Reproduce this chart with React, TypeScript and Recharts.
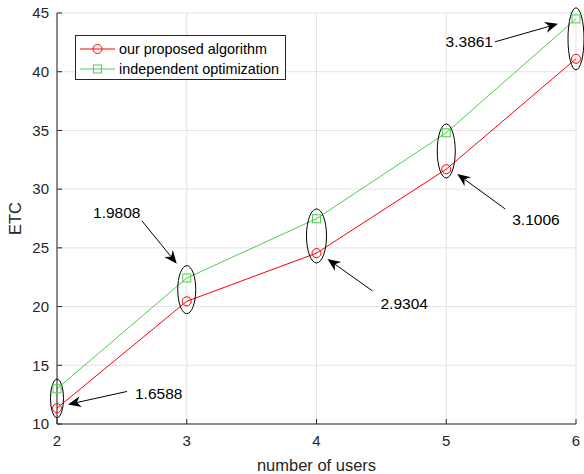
import React from "react"
import { LineChart, Line, XAxis, YAxis, CartesianGrid, ReferenceDot, Legend } from "recharts"

const users = [2, 3, 4, 5, 6]
const proposed = [11.35, 20.45, 24.55, 31.7, 41.1]
const independent = [13.0, 22.43, 27.48, 34.8, 44.5]
const gapLabels = ["1.6588", "1.9808", "2.9304", "3.1006", "3.3861"]
const xTicks = [2, 3, 4, 5, 6]
const yTicks = [10, 15, 20, 25, 30, 35, 40, 45]

const RED = "#ff0000"
const GREEN = "#4dcc4d"
const INK = "#262626"
const FONT = "'Liberation Sans', Arial, Helvetica, sans-serif"

const data = users.map((u, i) => ({ users: u, proposed: proposed[i], independent: independent[i] }))

// pixel layout of the callouts, relative to the ellipse centre
const callouts = [
  { ry: 19.5, rx: 6.5, tail: [70, -7], tip: [11, 6], text: [78, -5], anchor: "start" },
  { ry: 24, rx: 9, tail: [-45, -69], tip: [-10, -26], text: [-70, -77], anchor: "middle" },
  { ry: 27, rx: 10, tail: [56, 55], tip: [11, 23], text: [64, 68], anchor: "start" },
  { ry: 27, rx: 9, tail: [59, 58], tip: [11, 23], text: [66, 69], anchor: "start" },
  { ry: 31, rx: 8, tail: [-81, 3], tip: [-18, -15], text: [-83, 3], anchor: "end" },
]

function Callout(props: any) {
  const { cx, cy, idx } = props
  const c = callouts[idx]
  const fx = cx + c.tail[0], fy = cy + c.tail[1]
  const tx = cx + c.tip[0], ty = cy + c.tip[1]
  const dx = tx - fx, dy = ty - fy
  const len = Math.sqrt(dx * dx + dy * dy)
  const ux = dx / len, uy = dy / len
  const px = -uy, py = ux
  const L = 13, W = 5.5, N = 9
  const head = [
    [tx, ty],
    [tx - ux * L + px * W, ty - uy * L + py * W],
    [tx - ux * N, ty - uy * N],
    [tx - ux * L - px * W, ty - uy * L - py * W],
  ]
  return (
    <g>
      <ellipse cx={cx} cy={cy} rx={c.rx} ry={c.ry} fill="none" stroke="#000" strokeWidth={1} />
      <line x1={fx} y1={fy} x2={tx - ux * N} y2={ty - uy * N} stroke="#000" strokeWidth={1} />
      <polygon points={head.map((p) => p.join(",")).join(" ")} fill="#000" />
      <text
        x={cx + c.text[0]}
        y={cy + c.text[1]}
        textAnchor={c.anchor}
        dominantBaseline="central"
        fontSize={15.5}
        fontFamily={FONT}
        fill="#000"
      >
        {gapLabels[idx]}
      </text>
    </g>
  )
}

function Square(props: any) {
  const { cx, cy } = props
  return <rect x={cx - 4} y={cy - 4} width={8} height={8} fill="none" stroke={GREEN} strokeWidth={1} />
}

function LegendBox() {
  return (
    <div style={{ width: 211, height: 45, border: `1px solid ${INK}`, background: "#fff", boxSizing: "border-box" }}>
      <svg width={209} height={43} style={{ display: "block" }}>
        <line x1={4} y1={13} x2={39} y2={13} stroke={RED} />
        <circle cx={21.5} cy={13} r={4.5} fill="none" stroke={RED} />
        <text x={43} y={13} dominantBaseline="central" fontSize={14.4} fontFamily={FONT} fill="#000">
          our proposed algorithm
        </text>
        <line x1={4} y1={33} x2={39} y2={33} stroke={GREEN} />
        <rect x={17.5} y={29} width={8} height={8} fill="none" stroke={GREEN} />
        <text x={43} y={33} dominantBaseline="central" fontSize={14.4} fontFamily={FONT} fill="#000">
          independent optimization
        </text>
      </svg>
    </div>
  )
}

const tickStyle = { fontSize: 15, fill: INK, fontFamily: FONT }
const labelStyle = { fontSize: 16.5, fill: INK, fontFamily: FONT }
const emptyTick = () => <g />

export default function App() {
  return (
    <div style={{ position: "absolute", left: 0, top: 0, background: "#fff" }}>
      <LineChart width={584} height={474} data={data} margin={{ top: 13, right: 8, left: 0, bottom: 0 }}>
        <CartesianGrid stroke="#e3e3e3" />
        <XAxis
          dataKey="users"
          type="number"
          domain={[2, 6]}
          ticks={xTicks}
          tickSize={-5}
          tickMargin={16}
          height={50}
          stroke={INK}
          tick={tickStyle}
          label={{ value: "number of users", position: "insideBottom", offset: 3, style: labelStyle }}
        />
        <XAxis
          xAxisId="top"
          orientation="top"
          dataKey="users"
          type="number"
          domain={[2, 6]}
          ticks={xTicks}
          tickSize={-5}
          height={0}
          stroke={INK}
          tick={emptyTick}
        />
        <YAxis
          type="number"
          domain={[10, 45]}
          ticks={yTicks}
          tickSize={-5}
          tickMargin={13}
          width={57}
          stroke={INK}
          tick={tickStyle}
          label={{ value: "ETC", angle: -90, position: "insideLeft", offset: 15, style: { ...labelStyle, textAnchor: "middle" } }}
        />
        <YAxis
          yAxisId="right"
          orientation="right"
          type="number"
          domain={[10, 45]}
          ticks={yTicks}
          tickSize={-5}
          width={0}
          stroke={INK}
          tick={emptyTick}
        />
        <Legend layout="vertical" align="center" verticalAlign="middle" content={() => <LegendBox />} wrapperStyle={{ left: 75, top: 35, width: 211 }} />
        <Line
          dataKey="proposed"
          name="our proposed algorithm"
          stroke={RED}
          strokeWidth={1}
          dot={{ r: 4.5, fill: "none", stroke: RED, strokeWidth: 1 }}
          isAnimationActive={false}
        />
        <Line
          dataKey="independent"
          name="independent optimization"
          stroke={GREEN}
          strokeWidth={1}
          dot={(p: any) => <Square key={`sq-${p.index}`} {...p} />}
          isAnimationActive={false}
        />
        {users.map((u, i) => (
          <ReferenceDot
            key={u}
            x={u}
            y={(proposed[i] + independent[i]) / 2}
            ifOverflow="visible"
            shape={(p: any) => <Callout {...p} idx={i} />}
          />
        ))}
      </LineChart>
    </div>
  )
}
